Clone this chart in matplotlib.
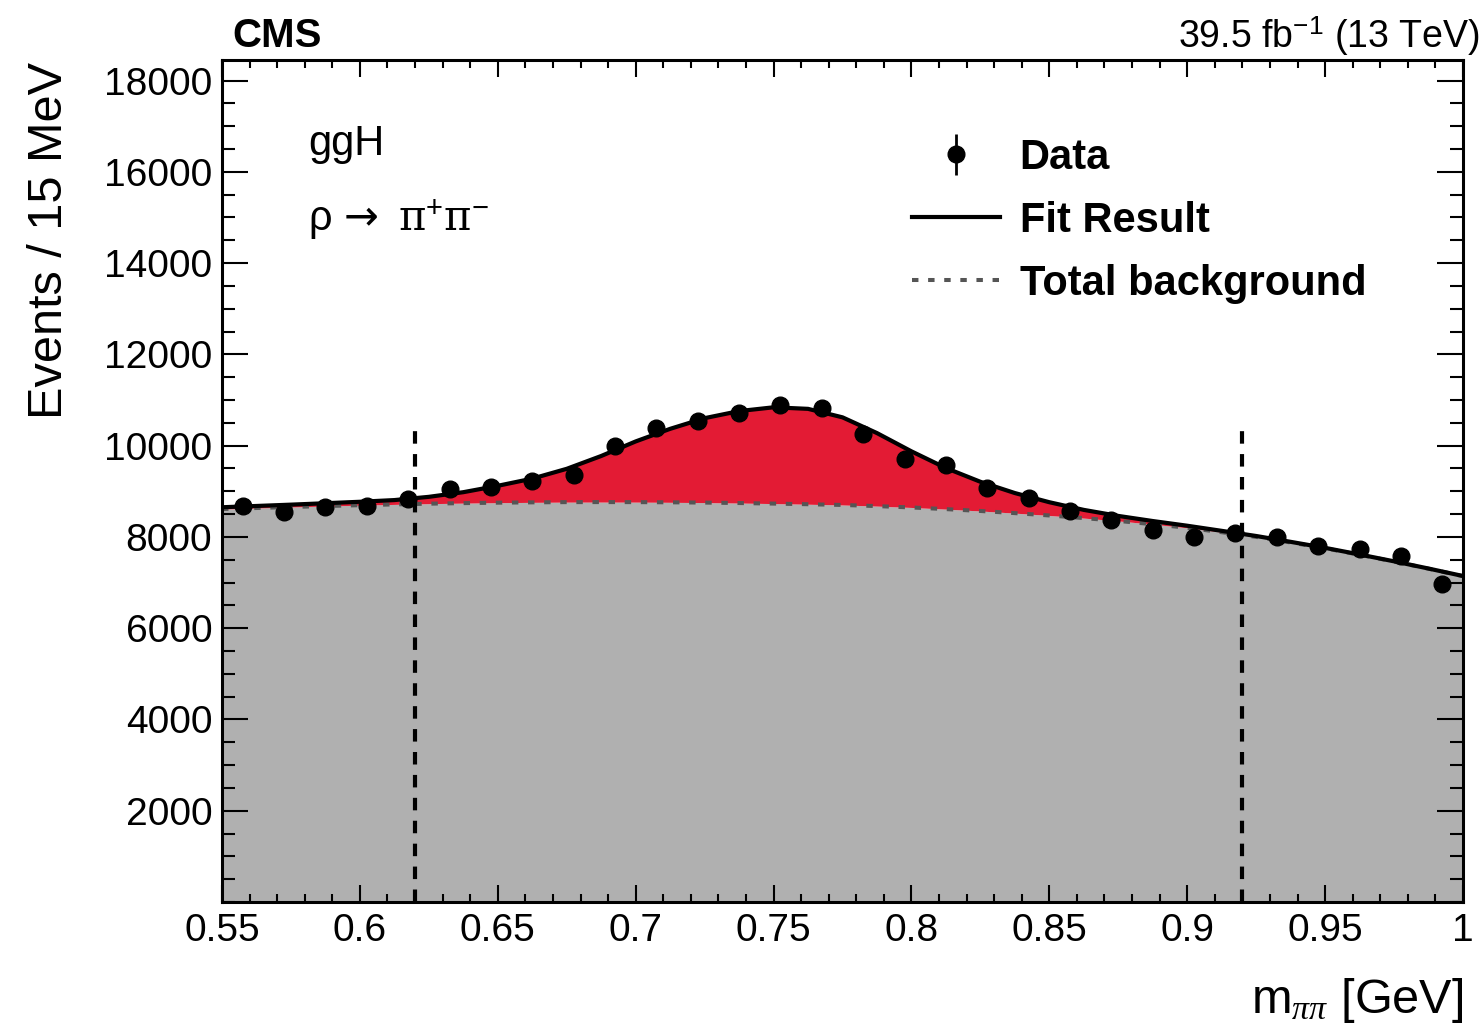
import numpy as np
import matplotlib
matplotlib.use("Agg")
import matplotlib.pyplot as plt
from matplotlib.ticker import MultipleLocator, FixedLocator, FuncFormatter

plt.rcParams["font.family"] = ["Liberation Sans", "DejaVu Sans"]
plt.rcParams["mathtext.fontset"] = "custom"
plt.rcParams["mathtext.rm"] = "Liberation Sans"
plt.rcParams["mathtext.it"] = "Liberation Serif:italic"
plt.rcParams["mathtext.bf"] = "Liberation Sans:bold"
plt.rcParams["mathtext.sf"] = "DejaVu Sans"
plt.rcParams["mathtext.tt"] = "DejaVu Serif"

# Binned data: 15 MeV bins between 0.55 and 1.0 GeV
bin_centers = [0.5575, 0.5725, 0.5875, 0.6025, 0.6175, 0.6325, 0.6475, 0.6625,
               0.6775, 0.6925, 0.7075, 0.7225, 0.7375, 0.7525, 0.7675, 0.7825,
               0.7975, 0.8125, 0.8275, 0.8425, 0.8575, 0.8725, 0.8875, 0.9025,
               0.9175, 0.9325, 0.9475, 0.9625, 0.9775, 0.9925]
events = [8675, 8554, 8659, 8681, 8828, 9047, 9098, 9222, 9354, 9989,
          10383, 10537, 10705, 10887, 10828, 10245, 9698, 9573, 9069, 8843,
          8572, 8368, 8149, 8002, 8090, 7989, 7805, 7726, 7579, 6966]

# Fit curves sampled along m_pipi
curve_mass = [0.55, 0.5625, 0.575, 0.5875, 0.60, 0.6125, 0.625, 0.6375, 0.65,
              0.6625, 0.675, 0.6875, 0.70, 0.7125, 0.725, 0.7375, 0.75, 0.7625,
              0.775, 0.7875, 0.80, 0.8125, 0.825, 0.8375, 0.85, 0.8625, 0.875,
              0.8875, 0.90, 0.9125, 0.925, 0.9375, 0.95, 0.9625, 0.975, 0.9875, 1.00]
background = [8610, 8633, 8655, 8676, 8695, 8712, 8728, 8740, 8750, 8757, 8762,
              8763, 8762, 8758, 8752, 8742, 8730, 8716, 8700, 8675, 8645, 8609,
              8568, 8521, 8470, 8412, 8350, 8278, 8200, 8103, 8000, 7878, 7750,
              7608, 7460, 7303, 7140]
rho_signal = [40, 45, 52, 62, 75, 95, 150, 240, 370, 520, 730, 1010, 1330, 1610,
              1850, 2015, 2110, 2090, 1920, 1600, 1230, 900, 640, 440, 290, 180,
              110, 70, 45, 30, 20, 14, 10, 7, 5, 4, 3]

window_edges = [0.62, 0.92]
window_height = 10400

mass = np.array(curve_mass)
bkg = np.array(background)
total = bkg + np.array(rho_signal)
x = np.array(bin_centers)
y = np.array(events, dtype=float)

W, H = 1481, 1028
fig = plt.figure(figsize=(W / 100, H / 100), dpi=100)
ax = fig.add_axes([222 / W, 1 - 902 / H, 1241 / W, 842 / H])

ax.fill_between(mass, 0, bkg, color="#b0b0b0", lw=0, zorder=1)
ax.fill_between(mass, bkg, total, color="#e31b34", lw=0, zorder=1)
bkg_line, = ax.plot(mass, bkg, color="#555555", lw=2.9, dashes=(1.6, 2.4),
                    dash_capstyle="butt", zorder=2, label="Total background")
fit_line, = ax.plot(mass, total, color="black", lw=3, zorder=3, label="Fit Result")
ax.vlines(window_edges, 0, window_height, colors="black", lw=3,
          linestyles=(0, (3, 2.5)), zorder=4)
data = ax.errorbar(x, y, yerr=np.sqrt(y), fmt="o", color="black", ms=12,
                   elinewidth=2, capsize=0, zorder=5, label="Data")

ax.set_xlim(0.55, 1.0)
ax.set_ylim(0, 18450)

ax.xaxis.set_major_locator(MultipleLocator(0.05))
ax.xaxis.set_minor_locator(MultipleLocator(0.01))
ax.xaxis.set_major_formatter(FuncFormatter(lambda v, p: f"{v:g}"))
ax.yaxis.set_major_locator(FixedLocator(list(range(2000, 18001, 2000))))
ax.yaxis.set_minor_locator(MultipleLocator(500))

ax.tick_params(which="both", direction="in", top=True, right=True,
               labelsize=28, width=1.5)
ax.xaxis.set_tick_params(which="major", length=12, pad=8)
ax.xaxis.set_tick_params(which="minor", length=6)
ax.yaxis.set_tick_params(which="major", length=19, pad=7)
ax.yaxis.set_tick_params(which="minor", length=9.5)
for s in ax.spines.values():
    s.set_linewidth(2.2)

fig.text(50 / W, 1 - 240 / H, "Events / 15 MeV", rotation=90, fontsize=35,
         ha="center", va="center")
fig.text(1463 / W, 1 - 1013 / H, r"m$_{ππ}$ [GeV]", fontsize=35,
         ha="right", va="baseline")

fig.text(232 / W, 1 - 47 / H, "CMS", fontsize=29, fontweight="bold",
         ha="left", va="baseline")
fig.text(1480 / W, 1 - 48 / H, r"39.5 fb$^{\mathrm{-1}}$ (13 TeV)", fontsize=27,
         ha="right", va="baseline")

ax.text((308 - 222) / 1241, (902 - 155) / 842, "ggH", fontsize=30,
        transform=ax.transAxes, ha="left", va="baseline")
ax.text((308 - 222) / 1241, (902 - 230) / 842,
        r"ρ $\mathsf{→}\;$ $\mathtt{π}^{+}\mathtt{π}^{-}$", fontsize=30,
        transform=ax.transAxes, ha="left", va="baseline")

ax.legend([data, fit_line, bkg_line], ["Data", "Fit Result", "Total background"],
          loc="upper left", bbox_to_anchor=((912 - 222) / 1241, (902 - 138) / 842),
          frameon=False, prop={"weight": "bold", "size": 30}, borderpad=0,
          borderaxespad=0, handlelength=2.1, handletextpad=0.48,
          labelspacing=0.55)

fig.savefig("out.png", dpi=100)
